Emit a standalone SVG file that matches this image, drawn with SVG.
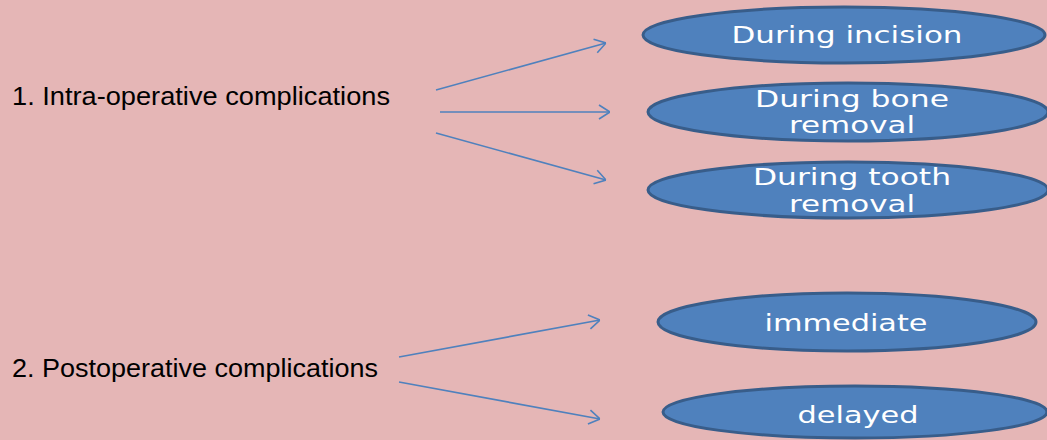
<svg xmlns="http://www.w3.org/2000/svg" width="1047" height="440" viewBox="0 0 1047 440">
<style>
.bg{fill:#E5B6B6}
.node ellipse{fill:#4F81BD;stroke:#385D8A;stroke-width:3}
.nt{fill:#FFFFFF;font-family:"DejaVu Sans",Verdana,sans-serif;font-size:23px;text-anchor:middle}
.lbl{fill:#000000;font-family:"Liberation Sans",Arial,sans-serif;font-size:26px}
.conn line{stroke:#4F81BD;stroke-width:1.6;fill:none}
</style>
<defs>
<marker id="arr" viewBox="0 0 12 16" refX="12" refY="8" markerWidth="12" markerHeight="16" markerUnits="userSpaceOnUse" orient="auto">
<path d="M1,1 L12,8 L1,15" fill="none" stroke="#4F81BD" stroke-width="1.6"/>
</marker>
</defs>
<rect class="bg" x="0" y="0" width="1047" height="440"/>
<g id="intra"><text class="lbl" x="12" y="105" textLength="378" lengthAdjust="spacingAndGlyphs">1. Intra-operative complications</text></g>
<g id="post"><text class="lbl" x="12" y="377" textLength="366" lengthAdjust="spacingAndGlyphs">2. Postoperative complications</text></g>
<g id="incision" class="node"><ellipse cx="844" cy="35" rx="201" ry="28"/><text class="nt" x="847" y="43" textLength="231" lengthAdjust="spacingAndGlyphs">During incision</text></g>
<g id="bone" class="node"><ellipse cx="848" cy="112" rx="200" ry="29"/><text class="nt" x="852" y="107" textLength="194" lengthAdjust="spacingAndGlyphs">During bone</text><text class="nt" x="852" y="133" textLength="126" lengthAdjust="spacingAndGlyphs">removal</text></g>
<g id="tooth" class="node"><ellipse cx="848" cy="190" rx="200" ry="28"/><text class="nt" x="852" y="185" textLength="198" lengthAdjust="spacingAndGlyphs">During tooth</text><text class="nt" x="852" y="212" textLength="126" lengthAdjust="spacingAndGlyphs">removal</text></g>
<g id="immediate" class="node"><ellipse cx="847" cy="322" rx="189" ry="29"/><text class="nt" x="846" y="331" textLength="163" lengthAdjust="spacingAndGlyphs">immediate</text></g>
<g id="delayed" class="node"><ellipse cx="855" cy="412" rx="192" ry="26"/><text class="nt" x="858" y="423" textLength="121" lengthAdjust="spacingAndGlyphs">delayed</text></g>
<g id="connectors" class="conn">
<line x1="436" y1="90" x2="606" y2="43" marker-end="url(#arr)"/>
<line x1="440" y1="112" x2="610" y2="112" marker-end="url(#arr)"/>
<line x1="436" y1="133" x2="606" y2="180" marker-end="url(#arr)"/>
<line x1="399" y1="357" x2="600" y2="320" marker-end="url(#arr)"/>
<line x1="399" y1="382" x2="600" y2="419" marker-end="url(#arr)"/>
</g>
</svg>
